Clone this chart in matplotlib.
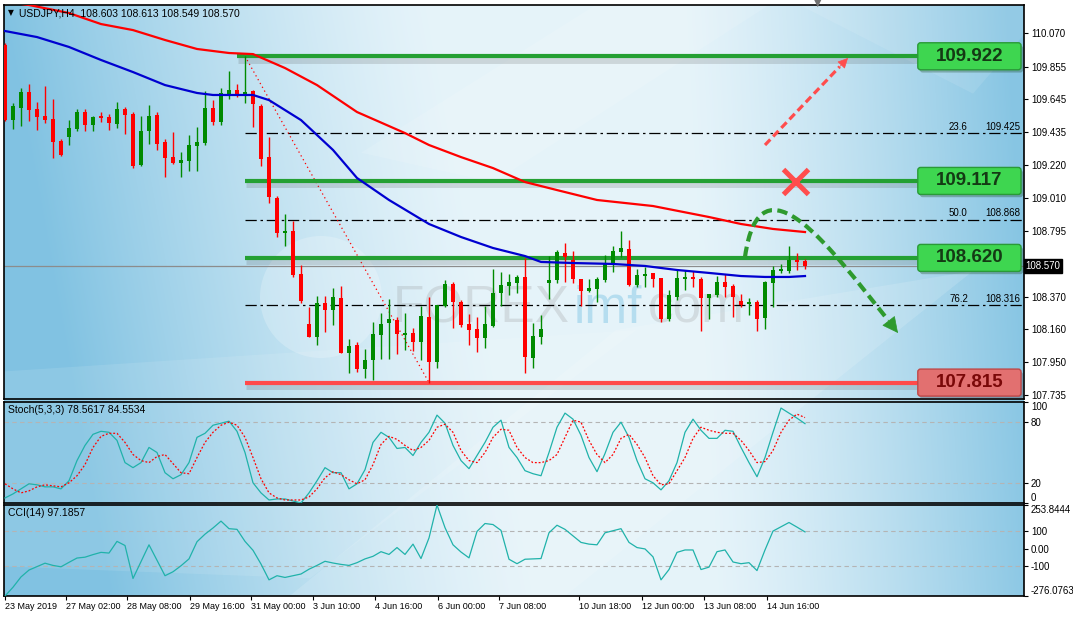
import numpy as np
import matplotlib.pyplot as plt
import matplotlib.patheffects as pe
import matplotlib.transforms as mtrans
from matplotlib.patches import FancyBboxPatch, PathPatch, Ellipse, Polygon
from matplotlib.path import Path

plt.rcParams['font.family'] = ['Liberation Sans', 'DejaVu Sans']

# ---- values (USDJPY H4) ----
opens = [109.995, 109.510, 109.590, 109.691, 109.581, 109.536, 109.517, 109.375, 109.402, 109.452,
         109.562, 109.478, 109.536, 109.530, 109.485, 109.581, 109.549, 109.220, 109.439, 109.543,
         109.368, 109.271, 109.233, 109.246, 109.342, 109.362, 109.588, 109.497, 109.678, 109.704,
         109.678, 109.698, 109.601, 109.271, 109.007, 108.781, 108.794, 108.516, 108.193, 108.109,
         108.329, 108.284, 108.361, 108.006, 108.058, 107.903, 107.961, 108.122, 108.200, 108.219,
         108.122, 108.135, 108.077, 108.238, 107.948, 108.310, 108.452, 108.335, 108.193, 108.161,
         108.103, 108.180, 108.393, 108.439, 108.458, 108.497, 107.974, 108.109, 108.458, 108.477,
         108.652, 108.606, 108.484, 108.406, 108.419, 108.477, 108.581, 108.658, 108.677, 108.445,
         108.503, 108.523, 108.490, 108.226, 108.368, 108.484, 108.497, 108.484, 108.361, 108.381,
         108.464, 108.439, 108.342, 108.322, 108.335, 108.232, 108.458, 108.535, 108.535, 108.606,
         108.603]
highs = [110.007, 109.622, 109.715, 109.743, 109.625, 109.728, 109.646, 109.386, 109.510, 109.581,
         109.581, 109.536, 109.562, 109.549, 109.627, 109.594, 109.562, 109.536, 109.607, 109.562,
         109.388, 109.433, 109.304, 109.413, 109.465, 109.698, 109.639, 109.717, 109.827, 109.743,
         109.922, 109.704, 109.614, 109.401, 109.020, 108.903, 108.858, 108.574, 108.303, 108.374,
         108.374, 108.426, 108.439, 108.096, 108.077, 108.032, 108.206, 108.264, 108.355, 108.238,
         108.264, 108.167, 108.310, 108.368, 108.316, 108.477, 108.464, 108.348, 108.258, 108.238,
         108.310, 108.548, 108.529, 108.516, 108.510, 108.619, 108.200, 108.251, 108.632, 108.671,
         108.716, 108.665, 108.484, 108.484, 108.497, 108.639, 108.697, 108.794, 108.736, 108.548,
         108.561, 108.523, 108.490, 108.413, 108.542, 108.542, 108.535, 108.497, 108.387, 108.503,
         108.516, 108.452, 108.387, 108.361, 108.348, 108.471, 108.568, 108.581, 108.697, 108.652,
         108.613]
lows = [109.504, 109.452, 109.474, 109.504, 109.448, 109.493, 109.267, 109.278, 109.349, 109.439,
        109.439, 109.439, 109.497, 109.446, 109.459, 109.420, 109.200, 109.213, 109.355, 109.317,
        109.142, 109.226, 109.142, 109.181, 109.181, 109.349, 109.478, 109.478, 109.646, 109.659,
        109.620, 109.465, 109.213, 108.974, 108.755, 108.697, 108.497, 108.329, 108.109, 108.058,
        108.142, 108.187, 108.006, 107.877, 107.883, 107.845, 107.832, 107.967, 107.967, 108.000,
        108.025, 108.019, 107.961, 107.815, 107.909, 108.303, 108.167, 108.174, 108.058, 108.013,
        108.038, 108.174, 108.310, 108.381, 108.393, 107.877, 107.909, 108.064, 108.355, 108.458,
        108.464, 108.458, 108.310, 108.400, 108.335, 108.464, 108.529, 108.626, 108.439, 108.432,
        108.432, 108.432, 108.206, 108.213, 108.348, 108.413, 108.432, 108.148, 108.226, 108.368,
        108.368, 108.238, 108.303, 108.251, 108.148, 108.161, 108.303, 108.523, 108.523, 108.542,
        108.549]
closes = [109.510, 109.601, 109.691, 109.575, 109.532, 109.512, 109.370, 109.284, 109.457, 109.562,
          109.478, 109.530, 109.521, 109.491, 109.581, 109.543, 109.213, 109.439, 109.536, 109.355,
          109.265, 109.233, 109.252, 109.349, 109.368, 109.588, 109.497, 109.685, 109.704, 109.678,
          109.691, 109.614, 109.259, 109.013, 108.781, 108.794, 108.510, 108.342, 108.109, 108.329,
          108.284, 108.368, 108.006, 108.051, 107.903, 107.961, 108.129, 108.193, 108.226, 108.129,
          108.135, 108.077, 108.245, 107.948, 108.316, 108.452, 108.335, 108.187, 108.155, 108.103,
          108.193, 108.393, 108.445, 108.464, 108.497, 107.980, 108.116, 108.161, 108.477, 108.658,
          108.626, 108.484, 108.406, 108.426, 108.484, 108.587, 108.665, 108.684, 108.445, 108.510,
          108.516, 108.484, 108.226, 108.381, 108.490, 108.497, 108.484, 108.361, 108.387, 108.464,
          108.432, 108.368, 108.316, 108.335, 108.226, 108.464, 108.542, 108.548, 108.606, 108.594,
          108.570]

ma_red_bars = [0, 3, 8, 12, 16, 20, 24, 28, 31, 35, 39, 44, 50, 53, 57, 61, 65, 69, 74, 81, 88, 92, 96, 100]
ma_red = [110.275, 110.253, 110.201, 110.130, 110.091, 110.027, 109.969, 109.943, 109.936, 109.846,
          109.736, 109.562, 109.426, 109.349, 109.271, 109.200, 109.110, 109.058, 108.994, 108.955,
          108.884, 108.839, 108.807, 108.787]
ma_blue_bars = [0, 4, 8, 12, 16, 20, 24, 26, 31, 33, 37, 41, 44, 48, 53, 57, 61, 65, 67, 71, 76, 80,
                84, 88, 92, 95, 98, 100]
ma_blue = [110.085, 110.046, 109.982, 109.898, 109.820, 109.736, 109.685, 109.672, 109.672, 109.639,
           109.510, 109.317, 109.136, 108.994, 108.839, 108.755, 108.684, 108.632, 108.594, 108.587,
           108.581, 108.568, 108.542, 108.523, 108.503, 108.497, 108.497, 108.503]

stoch_k = [5, 9, 14, 19, 18, 16, 16, 14, 22, 42,
           57, 68, 71, 70, 62, 40, 35, 40, 55, 50,
           30, 24, 28, 40, 65, 69, 77, 79, 81, 71,
           50, 20, 10, 3, 4, 4, 2, 0, 10, 22,
           35, 30, 30, 14, 19, 33, 60, 70, 65, 54,
           55, 47, 60, 70, 87, 79, 57, 42, 34, 47,
           60, 75, 82, 55, 45, 32, 29, 27, 50, 75,
           89, 83, 67, 45, 31, 49, 70, 80, 65, 42,
           24, 20, 13, 22, 40, 70, 83, 72, 64, 64,
           72, 71, 55, 40, 26, 45, 70, 94, 89, 84,
           78.5617]
stoch_d = [19, 14, 10, 12, 16, 18, 17, 16, 20, 27,
           38, 55, 66, 69, 69, 60, 48, 42, 40, 46,
           48, 39, 30, 29, 45, 60, 70, 77, 80, 77,
           65, 45, 24, 10, 5, 3, 3, 3, 6, 14,
           25, 31, 28, 23, 19, 23, 38, 58, 66, 63,
           57, 52, 55, 62, 75, 78, 70, 52, 42, 40,
           50, 65, 73, 72, 55, 45, 40, 40, 42, 48,
           65, 82, 80, 62, 48, 40, 48, 64, 68, 58,
           45, 27, 18, 19, 32, 45, 64, 75, 72, 70,
           69, 69, 62, 52, 40, 41, 52, 70, 82, 88,
           84.5534]
cci = [-276.08, -225, -165, -125, -105, -85, -98, -106, -80, -55,
       -50, -35, -22, -26, 42, 18, -174, -76, 22, -68,
       -158, -135, -100, -60, 40, 84, 120, 160, 116, 112,
       42, -10, -90, -182, -158, -168, -158, -148, -120, -98,
       -74, -84, -92, -98, -82, -60, -45, -18, -34, 6,
       -34, 26, -58, 62, 253.84, 122, 22, -20, -54, 100,
       146, 140, 106, -62, -88, -62, -60, -58, 92, 136,
       112, 74, 36, 26, 22, 92, 104, 116, 36, 6,
       -2, -48, -182, -122, -22, -8, -8, -122, -108, -18,
       -8, -78, -88, -82, -128, -8, 102, 127, 152, 125,
       97.19]

time_labels = ['23 May 2019', '27 May 02:00', '28 May 08:00', '29 May 16:00', '31 May 00:00',
               '3 Jun 10:00', '4 Jun 16:00', '6 Jun 00:00', '7 Jun 08:00', '10 Jun 18:00',
               '12 Jun 00:00', '13 Jun 08:00', '14 Jun 16:00']
time_ticks = [0, 7.6, 15.3, 23.1, 30.8, 38.5, 46.3, 54.1, 61.8, 71.75, 79.6, 87.4, 95.3]

price_ticks = [110.070, 109.855, 109.645, 109.435, 109.220, 109.010, 108.795,
               108.370, 108.160, 107.950, 107.735]
last_price = 108.570
resistance = [109.922, 109.117, 108.620]
support = 107.815
fib_levels = [109.425, 108.868, 108.316]
fib_names = ['23.6', '50.0', '76.2']
swing_high = (30, 109.922)
swing_low = (53, 107.815)

# ---- layout ----
W, H = 1073, 618
fig = plt.figure(figsize=(W / 100, H / 100), dpi=100)
fig.patch.set_facecolor('white')


def rect(l, t, r, b):
    return [l / W, 1 - b / H, (r - l) / W, (b - t) / H]


# light blue backdrop behind all three panes
bg = fig.add_axes(rect(4, 5, 1024, 596))
ny, nx = 240, 420
u = np.linspace(0, 1, nx)[None, :]
v = np.linspace(0, 1, ny)[:, None]
light = np.array([0.90, 0.955, 0.98])
dark = np.array([0.44, 0.73, 0.87])
t = 0.85 * np.clip(1 - u / 0.42 + 0.25 * v, 0, 1) ** 1.3 \
    + 0.8 * np.clip((u - 0.68) / 0.32 + 0.05 - 0.1 * v, 0, 1) ** 1.3
t = np.clip(t, 0, 1)
img = light * (1 - t[..., None]) + dark * t[..., None]
bg.imshow(img, extent=[0, 1, 0, 1], aspect='auto', interpolation='bilinear')
for pts, a in [([(0.0, 0.05), (0.30, 0.03), (0.62, 0.45), (0.0, 0.38)], 0.10),
               ([(0.28, 0.0), (0.55, 0.0), (0.95, 0.55), (0.60, 0.45)], 0.14),
               ([(0.35, 0.75), (0.58, 1.0), (0.75, 1.0), (0.48, 0.7)], 0.12),
               ([(0.78, 1.0), (0.95, 0.85), (1.0, 0.95), (1.0, 1.0)], 0.10)]:
    bg.add_patch(Polygon(pts, closed=True, fc='white', ec='none', alpha=a))
bg.set_xlim(0, 1)
bg.set_ylim(0, 1)
bg.axis('off')

ax = fig.add_axes(rect(4, 5, 1024, 399))
ax_st = fig.add_axes(rect(4, 402, 1024, 503))
ax_cci = fig.add_axes(rect(4, 505, 1024, 596))

XMIN, XMAX = -0.125, 127.375
YMIN, YMAX = 107.709, 110.253
for a in (ax, ax_st, ax_cci):
    a.set_facecolor('none')
    a.set_xlim(XMIN, XMAX)
    a.yaxis.tick_right()
    a.tick_params(axis='y', direction='out', length=3, width=0.8, labelsize=7, pad=2)
    a.tick_params(axis='x', bottom=False, labelbottom=False)
    for s in a.spines.values():
        s.set_linewidth(1.2)

# ---- main pane ----
ax.set_ylim(YMIN, YMAX)
ax.set_yticks(price_ticks)
ax.set_yticklabels([f'{p:.3f}' for p in price_ticks])

# watermark
ax.add_patch(Ellipse((321 / W, 1 - 297 / H), 122 / W, 122 / H, transform=fig.transFigure,
                     fc='white', ec='none', alpha=0.22, zorder=1))
ax.text(393 / W, 1 - 323 / H, 'FOREX', transform=fig.transFigure, fontsize=37,
        color='#8a8a8a', alpha=0.22, zorder=1)
ax.text(574 / W, 1 - 323 / H, 'imf', transform=fig.transFigure, fontsize=37,
        color='#7cc4e4', alpha=0.45, zorder=1)
ax.text(648 / W, 1 - 323 / H, 'com', transform=fig.transFigure, fontsize=37,
        color='#8a8a8a', alpha=0.22, zorder=1)

ax.axhline(last_price, color='#8c8c8c', lw=0.9, zorder=2)

# fibonacci retracement
for lv, name in zip(fib_levels, fib_names):
    ax.plot([swing_high[0], XMAX], [lv, lv], color='black', lw=0.9,
            ls=(0, (9, 3, 2, 3)), zorder=3)
    ax.text(118.0, lv + 0.008, name, fontsize=7, ha='left', va='bottom', zorder=3)
    ax.text(126.9, lv + 0.008, f'{lv:.3f}', fontsize=7, ha='right', va='bottom', zorder=3)
ax.plot([swing_high[0], swing_low[0]], [swing_high[1], swing_low[1]], color='red', lw=0.9,
        ls=(0, (1, 2.5)), zorder=3)

shadow = [pe.SimpleLineShadow(offset=(0.5, -2.5), shadow_color='#505050', alpha=0.18, linewidth=5),
          pe.Normal()]
for i, lv in enumerate(resistance):
    x0 = 29.0 if i == 0 else 30.0
    ax.plot([x0, 114.2], [lv, lv], color='#24a033', lw=3.0, solid_capstyle='butt',
            path_effects=shadow, zorder=3)
ax.plot([30.0, 114.2], [support, support], color='#ff4a4a', lw=3.0, solid_capstyle='butt',
        path_effects=shadow, zorder=3)

# candles
x = np.arange(len(opens))
o, h, l, c = (np.array(s) for s in (opens, highs, lows, closes))
col = np.where(c >= o, '#008a00', '#ff0000')
ax.vlines(x, l, h, colors=col, lw=1.0, zorder=4)
ax.bar(x, np.maximum(np.abs(c - o), 0.004), bottom=np.minimum(o, c), width=0.62,
       color=col, lw=0, zorder=5)

ax.plot(ma_red_bars, ma_red, color='#ff0000', lw=1.6, zorder=6)
ax.plot(ma_blue_bars, ma_blue, color='#0000d0', lw=1.6, zorder=6)

# level label boxes
aspect = ((YMAX - YMIN) / 394) / ((XMAX - XMIN) / 1020)
box_h = 27 * (YMAX - YMIN) / 394
boxes = [(lv, '#3ed650', '#2a9a38', '#143a14') for lv in resistance] + \
        [(support, '#e27070', '#c04848', '#7a0808')]
for lv, fc, ec, tc in boxes:
    p = FancyBboxPatch((114.1, lv - box_h / 2), 12.9, box_h,
                       boxstyle='round,pad=0,rounding_size=0.35', mutation_aspect=aspect,
                       fc=fc, ec=ec, lw=1.0, zorder=7,
                       path_effects=[pe.SimplePatchShadow(offset=(1.5, -2), alpha=0.3), pe.Normal()])
    ax.add_patch(p)
    ax.text(120.55, lv, f'{lv:.3f}', ha='center', va='center', fontsize=13.5,
            fontweight='bold', color=tc, zorder=8)

# scenario drawings
ax.plot([95.0, 104.34], [109.349, 109.855], color='#ff4d4d', lw=2.3,
        ls=(0, (2.4, 1.3)), zorder=8)
ax.annotate('', xy=(105.375, 109.911), xytext=(104.34, 109.855),
            arrowprops=dict(arrowstyle='-|>', color='#ff4d4d', lw=0.5, mutation_scale=16,
                            shrinkA=0, shrinkB=0), zorder=8)
ax.plot(98.75, 109.117, marker='x', ms=18, mew=3.6, color='#ff4d4d', zorder=9)

curve = Path([(92.5, 108.626), (94.375, 109.317), (103.375, 108.671), (110.375, 108.219)],
             [Path.MOVETO, Path.CURVE4, Path.CURVE4, Path.CURVE4])
ax.add_patch(PathPatch(curve, fill=False, ec='#2e9a2e', lw=3.0, ls=(0, (2.5, 1.3)), zorder=8))
ax.annotate('', xy=(111.625, 108.135), xytext=(110.375, 108.219),
            arrowprops=dict(arrowstyle='-|>', color='#2e9a2e', lw=0.5, mutation_scale=26,
                            shrinkA=0, shrinkB=0), zorder=8)

# current price marker on the scale
ax.text(1.0015, last_price, f'{last_price:.3f}', color='white', fontsize=7, va='center', ha='left',
        transform=mtrans.blended_transform_factory(ax.transAxes, ax.transData),
        bbox=dict(fc='black', ec='black', pad=1.3), clip_on=False, zorder=10)

# ---- stochastic ----
ax_st.set_ylim(0, 100)
for lv in (80, 20):
    ax_st.axhline(lv, color='#b4b4b4', lw=0.8, ls=(0, (4, 3)), zorder=2)
ax_st.plot(x, stoch_k, color='#20b2aa', lw=0.9, zorder=4)
ax_st.plot(x, stoch_d, color='#ff0000', lw=0.9, ls=(0, (1.5, 1.5)), zorder=4)
ax_st.set_yticks([100, 80, 20, 0])
ax_st.set_yticklabels(['100', '80', '20', '0'])
lbls = ax_st.get_yticklabels()
lbls[0].set_va('top')
lbls[-1].set_va('bottom')

# ---- CCI ----
cci_lo, cci_hi = -276.0763, 253.8444
ax_cci.set_ylim(cci_lo, cci_hi)
for lv in (100, -100):
    ax_cci.axhline(lv, color='#b4b4b4', lw=0.8, ls=(0, (4, 3)), zorder=2)
ax_cci.plot(x, cci, color='#20b2aa', lw=0.9, zorder=4)
ax_cci.set_yticks([cci_hi, 100, 0, -100, cci_lo])
ax_cci.set_yticklabels(['253.8444', '100', '0.00', '-100', '-276.0763'])
lbls = ax_cci.get_yticklabels()
lbls[0].set_va('top')
lbls[-1].set_va('bottom')

ax_cci.set_xticks(time_ticks)
ax_cci.set_xticklabels(time_labels)
ax_cci.tick_params(axis='x', bottom=True, labelbottom=True, direction='out', length=3,
                   width=0.8, labelsize=6.5, pad=1.5)
for lb in ax_cci.get_xticklabels():
    lb.set_ha('left')

# ---- header texts ----
fig.text(8 / W, 1 - 13 / H, '\u25bc', fontsize=5.5, va='center', family='DejaVu Sans')
fig.text(19 / W, 1 - 13 / H, 'USDJPY,H4  108.603 108.613 108.549 108.570', fontsize=7.5, va='center')
fig.text(8 / W, 1 - 410 / H, 'Stoch(5,3,3) 78.5617 84.5534', fontsize=7.5, va='center')
fig.text(8 / W, 1 - 513 / H, 'CCI(14) 97.1857', fontsize=7.5, va='center')
fig.text(818 / W, 1 - 3 / H, '\u25bc', fontsize=7, color='#707070', va='center', ha='center',
         family='DejaVu Sans')

fig.savefig('out.png', dpi=100)
